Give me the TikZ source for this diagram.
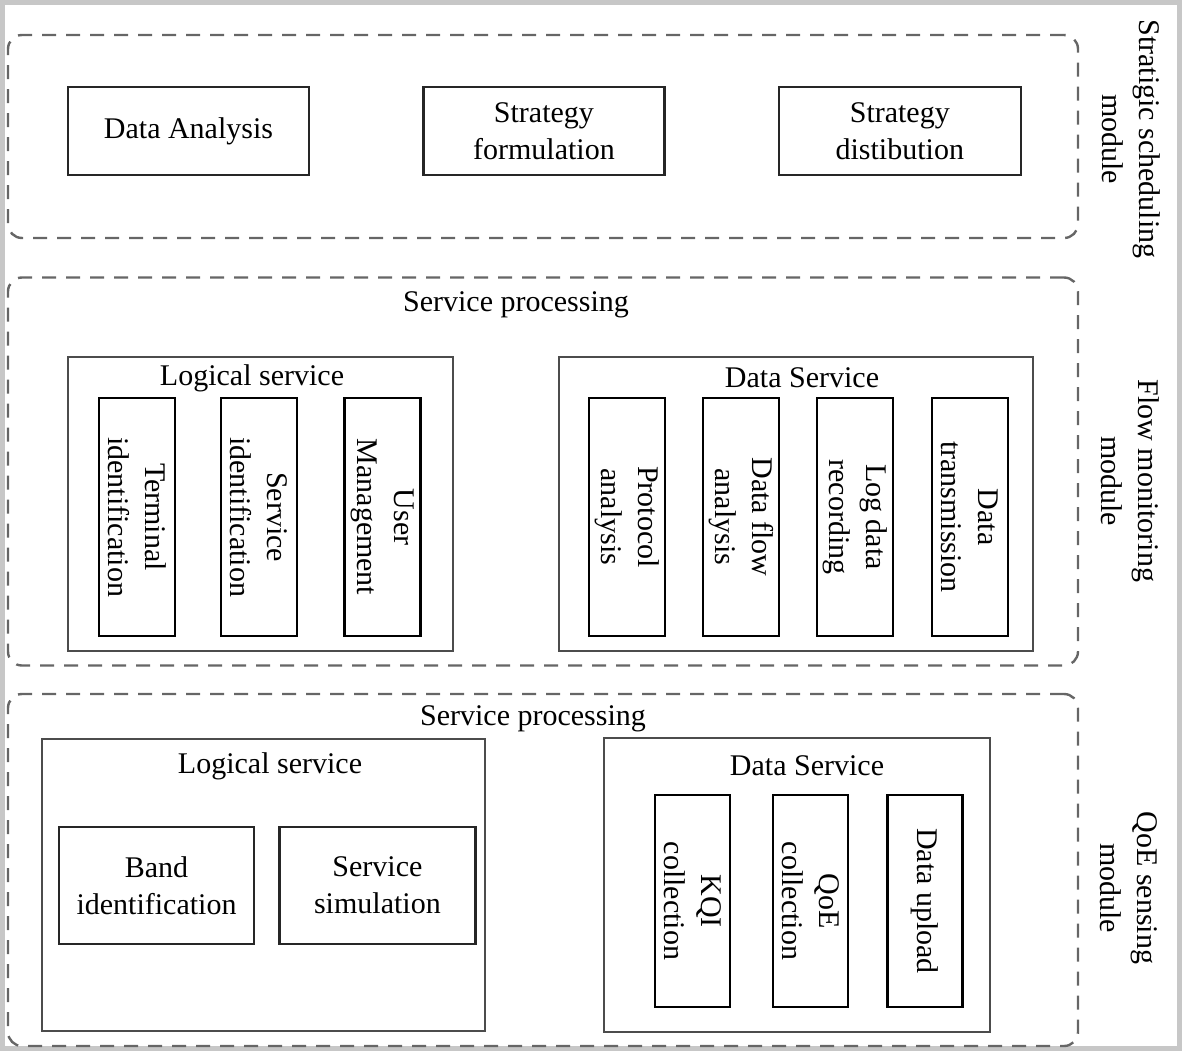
\documentclass[tikz,border=0pt]{standalone}
\usepackage{fontspec}
\setmainfont{Liberation Serif}
\usetikzlibrary{positioning}

\begin{document}
\begin{tikzpicture}[
    x=1pt, y=-1pt,
    every node/.style={font=\fontsize{30}{37}\selectfont, inner sep=0pt},
    module/.style={draw=black!60, dash pattern=on 14pt off 10pt, line width=2.4pt,
                   rounded corners=14pt, minimum width=1070pt},
    group/.style={draw=black!70, line width=2.6pt},
    item/.style={draw=black!85, line width=2.4pt, align=center},
    vitem/.style={draw=black, line width=2.6pt, align=center, rotate=-90,
                  minimum height=76pt},
    side/.style={rotate=-90, align=center},
    node distance=112pt
]
\useasboundingbox (0,0) rectangle (1182,1051);
\draw[black!22, line width=5pt] (2.5,2.5) rectangle (1179.5,1048.5);

% Modules
\node[module, minimum height=203pt] (SSM) at (543,136.5) {};
\node[module, minimum height=388pt] (FMM) at (543,471.5) {};
\node[module, minimum height=352pt] (QSM) at (543,870) {};
\node[side] (SSMlab) at (1131,139) {Stratigic scheduling\\module};
\node[side] (FMMlab) at (1130,481) {Flow monitoring\\module};
\node[side] (QSMlab) at (1129,888) {QoE sensing\\module};

% Strategic scheduling
\node[item, minimum width=241pt, minimum height=88pt] (DA) at (188.5,131) {Data Analysis};
\node[item, minimum width=241pt, minimum height=88pt, right=of DA] (SF) {Strategy\\formulation};
\node[item, minimum width=242pt, minimum height=88pt, right=of SF] (SD) {Strategy\\distibution};

% Flow monitoring
\node (FSP) at (516,305) {Service processing};
\node[group, minimum width=385pt, minimum height=294pt] (FLS) at (260.5,504) {};
\node (FLStitle) at (252,378) {Logical service};
\node[vitem, minimum width=238pt] (TI) at (137,517) {Terminal\\identification};
\node[vitem, minimum width=238pt] (SI) at (259,517) {Service\\identification};
\node[vitem, minimum width=238pt] (UM) at (382.5,517) {User\\Management};
\node[group, minimum width=474pt, minimum height=294pt] (FDS) at (796,504) {};
\node (FDStitle) at (802,378) {Data Service};
\node[vitem, minimum width=238pt] (PA) at (627,517) {Protocol\\analysis};
\node[vitem, minimum width=238pt] (DFA) at (741,517) {Data flow\\analysis};
\node[vitem, minimum width=238pt] (LDR) at (855,517) {Log data\\recording};
\node[vitem, minimum width=238pt] (DT) at (970,517) {Data\\transmission};

% QoE sensing
\node (QSP) at (533,719) {Service processing};
\node[group, minimum width=443pt, minimum height=292pt] (QLS) at (263.5,885) {};
\node (QLStitle) at (270,766) {Logical service};
\node[item, minimum width=195pt, minimum height=117pt] (BI) at (156.5,885.5) {Band\\identification};
\node[item, minimum width=196pt, minimum height=117pt, right=23pt of BI] (SS) {Service\\simulation};
\node[group, minimum width=386pt, minimum height=294pt] (QDS) at (797,885) {};
\node (QDStitle) at (807,766) {Data Service};
\node[vitem, minimum width=212pt, minimum height=75pt] (KQI) at (692.5,901) {KQI\\collection};
\node[vitem, minimum width=212pt, minimum height=75pt] (QoE) at (810.5,901) {QoE\\collection};
\node[vitem, minimum width=212pt, minimum height=75pt] (DU) at (925,901) {Data upload};
\end{tikzpicture}
\end{document}
